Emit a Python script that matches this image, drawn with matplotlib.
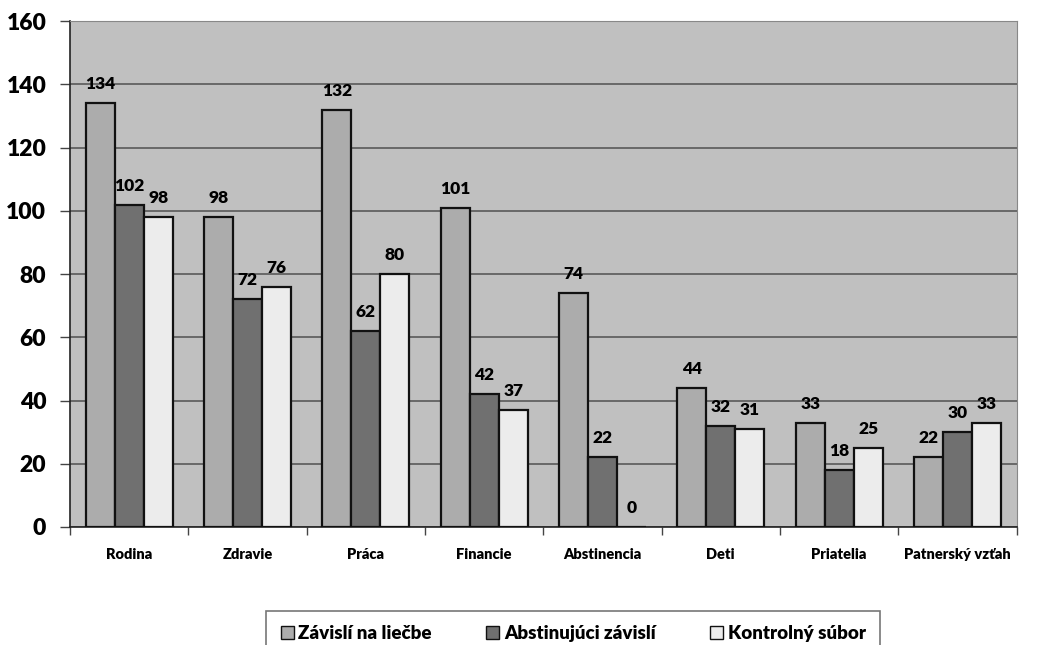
import matplotlib
matplotlib.use("Agg")
import matplotlib.pyplot as plt
import numpy as np

categories = ["Rodina", "Zdravie", "Práca", "Financie", "Abstinencia", "Deti", "Priatelia", "Patnerský vzťah"]
series_names = ["Závislí na liečbe", "Abstinujúci závislí", "Kontrolný súbor"]
zavisli = [134, 98, 132, 101, 74, 44, 33, 22]
abstinujuci = [102, 72, 62, 42, 22, 32, 18, 30]
kontrolny = [98, 76, 80, 37, 0, 31, 25, 33]
y_ticks = [0, 20, 40, 60, 80, 100, 120, 140, 160]

series = [zavisli, abstinujuci, kontrolny]
colors = ["#acacac", "#707070", "#ececec"]

plt.rcParams['font.family'] = ['Lato', 'DejaVu Sans']

fig = plt.figure(figsize=(10.46, 6.45), dpi=100)
ax = fig.add_axes([0.0669, 0.183, 0.905, 0.784])
ax.set_facecolor("#c0c0c0")

x = np.arange(len(categories))
w = 0.245
for i, (vals, col) in enumerate(zip(series, colors)):
    pos = x + (i - 1) * w
    ax.bar(pos, vals, width=w, color=col, edgecolor="#111111", linewidth=1.6,
           label=series_names[i], zorder=3)
    for px, v in zip(pos, vals):
        ax.text(px, v + 3.5, str(v), ha="center", va="bottom",
                fontsize=12.5, fontweight="heavy", zorder=4)

ax.set_xlim(-0.5, len(categories) - 0.5)
ax.set_ylim(0, 160)
ax.set_yticks(y_ticks)
ax.set_yticklabels([str(t) for t in y_ticks], fontsize=16.5, fontweight="heavy")
ax.yaxis.grid(True, color="#505050", linewidth=1.1, zorder=1)
ax.set_axisbelow(True)

ax.set_xticks(np.arange(len(categories) + 1) - 0.5)
ax.set_xticklabels([])
ax.set_xticks(x, minor=True)
ax.set_xticklabels(categories, minor=True, fontsize=10.5, fontweight="heavy")
ax.tick_params(axis="x", which="minor", length=0, pad=15)
ax.tick_params(axis="x", which="major", length=6, width=1, direction="out", color="#444444")
ax.tick_params(axis="y", length=7, width=1, direction="out", pad=10, color="#444444")

for side in ["top", "right"]:
    ax.spines[side].set_color("#888888")
for side in ["left", "bottom"]:
    ax.spines[side].set_color("#222222")
    ax.spines[side].set_linewidth(1.2)

# legend box runs off the bottom edge of the figure
leg = fig.legend(loc="upper center", bbox_to_anchor=(0.548, 0.053), ncol=3,
                 frameon=True, fancybox=False, edgecolor="#555555",
                 prop={"weight": "heavy", "size": 13.5},
                 handlelength=0.7, handleheight=0.7, handletextpad=0.25,
                 columnspacing=2.9, borderpad=0.75, borderaxespad=0)
leg.get_frame().set_linewidth(1.2)
for h in leg.legend_handles:
    h.set_linewidth(1.0)

fig.savefig("out.png", dpi=100)
